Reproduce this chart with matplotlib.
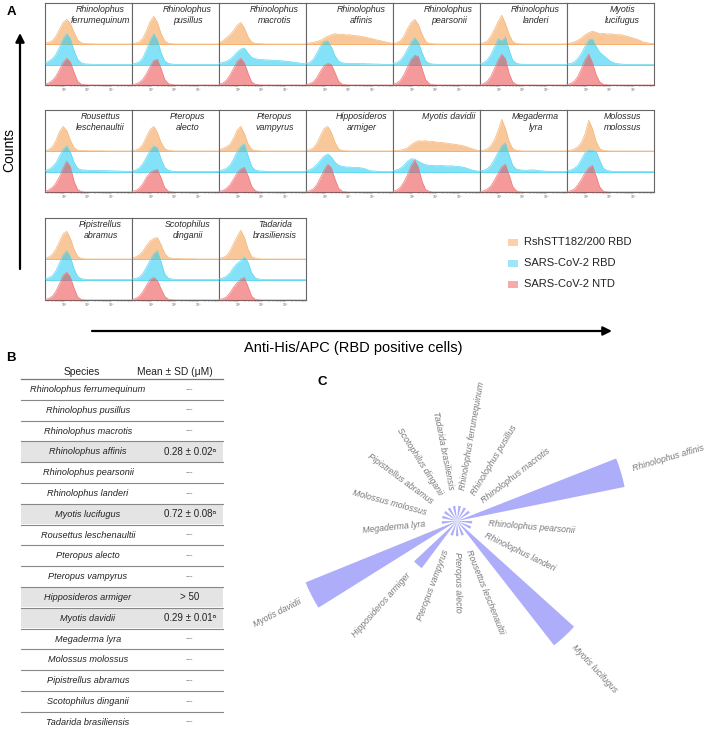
import numpy as np
import matplotlib.pyplot as plt
from matplotlib.patches import Rectangle

plt.rcParams['font.family'] = ['Liberation Sans', 'DejaVu Sans']

W, H = 709, 735

species = ["Rhinolophus ferrumequinum", "Rhinolophus pusillus", "Rhinolophus macrotis",
           "Rhinolophus affinis", "Rhinolophus pearsonii", "Rhinolophus landeri",
           "Myotis lucifugus", "Rousettus leschenaultii", "Pteropus alecto",
           "Pteropus vampyrus", "Hipposideros armiger", "Myotis davidii",
           "Megaderma lyra", "Molossus molossus", "Pipistrellus abramus",
           "Scotophilus dinganii", "Tadarida brasiliensis"]

kd_text = ["---", "---", "---", "0.28 ± 0.02ᵃ", "---", "---", "0.72 ± 0.08ᵃ", "---", "---",
           "---", "> 50", "0.29 ± 0.01ᵃ", "---", "---", "---", "---", "---"]

# panel C: relative bar length per species
rose_len = [0.08, 0.08, 0.08, 0.90, 0.08, 0.08, 0.83, 0.08, 0.08,
            0.08, 0.31, 0.86, 0.08, 0.08, 0.08, 0.08, 0.08]

# flow histograms, 25 channels on the APC axis (trailing channels are empty)
rsh_rbd = {
    "Rhinolophus ferrumequinum": [0.04, 0.08, 0.16, 0.38, 0.72, 1.05, 1.2, 1.0, 0.58, 0.2, 0.06, 0.02, 0.01, 0.01],
    "Rhinolophus pusillus": [0.02, 0.05, 0.1, 0.28, 0.65, 1.1, 1.35, 1.05, 0.52, 0.15, 0.04, 0.01],
    "Rhinolophus macrotis": [0.05, 0.15, 0.3, 0.45, 0.65, 0.92, 1.05, 0.78, 0.35, 0.1, 0.03, 0.02, 0.01],
    "Rhinolophus affinis": [0.02, 0.05, 0.08, 0.12, 0.18, 0.28, 0.38, 0.45, 0.5, 0.47, 0.48, 0.44, 0.45,
                            0.42, 0.4, 0.38, 0.35, 0.3, 0.27, 0.22, 0.18, 0.14, 0.1, 0.06, 0.03],
    "Rhinolophus pearsonii": [0.02, 0.06, 0.15, 0.38, 0.75, 1.05, 1.2, 0.95, 0.48, 0.12, 0.03, 0.01],
    "Rhinolophus landeri": [0.02, 0.06, 0.15, 0.38, 0.72, 1.1, 1.4, 1.0, 0.48, 0.12, 0.03, 0.01],
    "Myotis lucifugus": [0.02, 0.05, 0.1, 0.18, 0.3, 0.45, 0.55, 0.62, 0.57, 0.5, 0.52, 0.48, 0.5,
                         0.47, 0.45, 0.45, 0.4, 0.35, 0.3, 0.25, 0.18, 0.1, 0.06, 0.03, 0.02],
    "Rousettus leschenaultii": [0.02, 0.06, 0.2, 0.5, 0.95, 1.2, 1.0, 0.52, 0.16, 0.04, 0.02, 0.02,
                                0.01, 0.01, 0.01, 0.01, 0.01],
    "Pteropus alecto": [0.02, 0.05, 0.12, 0.32, 0.7, 1.05, 1.2, 0.9, 0.42, 0.12, 0.03, 0.01],
    "Pteropus vampyrus": [0.05, 0.12, 0.2, 0.32, 0.62, 1.02, 1.2, 0.85, 0.35, 0.08, 0.02, 0.01],
    "Hipposideros armiger": [0.02, 0.06, 0.15, 0.38, 0.75, 1.1, 1.2, 0.9, 0.42, 0.1, 0.02, 0.01],
    "Myotis davidii": [0.01, 0.02, 0.04, 0.08, 0.15, 0.3, 0.42, 0.5, 0.48, 0.5, 0.45, 0.47, 0.43,
                       0.42, 0.4, 0.38, 0.35, 0.33, 0.3, 0.27, 0.22, 0.16, 0.1, 0.05, 0.02],
    "Megaderma lyra": [0.02, 0.04, 0.1, 0.25, 0.55, 1.0, 1.55, 1.1, 0.48, 0.12, 0.03, 0.01],
    "Molossus molossus": [0.02, 0.04, 0.1, 0.2, 0.42, 0.85, 1.5, 1.1, 0.48, 0.12, 0.03, 0.01],
    "Pipistrellus abramus": [0.03, 0.09, 0.22, 0.48, 0.85, 1.22, 1.35, 1.0, 0.48, 0.12, 0.03],
    "Scotophilus dinganii": [0.04, 0.1, 0.2, 0.38, 0.65, 0.88, 1.0, 1.05, 0.7, 0.28, 0.08, 0.03, 0.02,
                             0.02, 0.01, 0.01, 0.01, 0.01],
    "Tadarida brasiliensis": [0.03, 0.07, 0.15, 0.38, 0.75, 1.1, 1.4, 1.05, 0.48, 0.12, 0.03, 0.01],
}
cov2_rbd = {
    "Rhinolophus ferrumequinum": [0.08, 0.15, 0.28, 0.48, 0.85, 1.25, 1.5, 1.25, 0.68, 0.25, 0.08, 0.03, 0.02, 0.01, 0.01],
    "Rhinolophus pusillus": [0.02, 0.06, 0.13, 0.32, 0.72, 1.18, 1.5, 1.2, 0.58, 0.18, 0.05, 0.02, 0.01],
    "Rhinolophus macrotis": [0.05, 0.1, 0.15, 0.25, 0.4, 0.6, 0.75, 0.8, 0.55, 0.35, 0.28, 0.25, 0.24,
                             0.22, 0.22, 0.2, 0.2, 0.18, 0.17, 0.15, 0.13, 0.1, 0.08, 0.05, 0.03],
    "Rhinolophus affinis": [0.03, 0.09, 0.25, 0.55, 0.9, 1.12, 1.15, 0.85, 0.42, 0.16, 0.08, 0.06, 0.05,
                            0.05, 0.05, 0.04, 0.04, 0.03, 0.03, 0.02, 0.02, 0.01, 0.01],
    "Rhinolophus pearsonii": [0.03, 0.09, 0.2, 0.42, 0.75, 1.08, 1.3, 1.08, 0.58, 0.18, 0.05, 0.02, 0.01],
    "Rhinolophus landeri": [0.03, 0.09, 0.22, 0.48, 0.85, 1.25, 1.15, 1.35, 0.72, 0.22, 0.06, 0.02, 0.01],
    "Myotis lucifugus": [0.02, 0.05, 0.12, 0.3, 0.55, 0.9, 1.2, 1.25, 0.9, 0.6, 0.45, 0.3, 0.15, 0.08,
                         0.04, 0.02, 0.01],
    "Rousettus leschenaultii": [0.05, 0.1, 0.22, 0.42, 0.75, 1.08, 1.25, 0.95, 0.45, 0.15, 0.08, 0.07, 0.06,
                                0.06, 0.05, 0.05, 0.04, 0.04, 0.03, 0.03, 0.02, 0.02, 0.01, 0.01],
    "Pteropus alecto": [0.03, 0.07, 0.17, 0.38, 0.7, 1.05, 1.25, 1.15, 0.62, 0.2, 0.06, 0.02],
    "Pteropus vampyrus": [0.03, 0.07, 0.15, 0.3, 0.6, 0.98, 1.22, 1.35, 0.78, 0.25, 0.07, 0.03, 0.02, 0.01],
    "Hipposideros armiger": [0.03, 0.08, 0.18, 0.35, 0.55, 0.75, 0.85, 0.7, 0.45, 0.3, 0.25, 0.22, 0.22,
                             0.2, 0.2, 0.18, 0.15, 0.08, 0.03, 0.02, 0.01],
    "Myotis davidii": [0.03, 0.08, 0.15, 0.3, 0.5, 0.62, 0.6, 0.5, 0.4, 0.33, 0.3, 0.3, 0.28, 0.3, 0.28,
                       0.27, 0.28, 0.26, 0.25, 0.22, 0.18, 0.12, 0.06, 0.03, 0.01],
    "Megaderma lyra": [0.03, 0.06, 0.14, 0.3, 0.6, 0.95, 1.25, 1.4, 0.82, 0.3, 0.12, 0.08, 0.06, 0.06,
                       0.08, 0.07, 0.05, 0.03, 0.02, 0.01],
    "Molossus molossus": [0.03, 0.07, 0.15, 0.3, 0.6, 0.92, 1.05, 1.02, 0.98, 0.55, 0.16, 0.05, 0.02],
    "Pipistrellus abramus": [0.03, 0.08, 0.18, 0.42, 0.8, 1.2, 1.4, 1.1, 0.52, 0.15, 0.04, 0.01],
    "Scotophilus dinganii": [0.02, 0.05, 0.12, 0.3, 0.6, 0.95, 1.25, 1.4, 0.88, 0.28, 0.07, 0.02, 0.01],
    "Tadarida brasiliensis": [0.03, 0.07, 0.15, 0.32, 0.58, 0.78, 0.92, 1.1, 0.85, 0.32, 0.08, 0.02],
}
cov2_ntd = {
    "Rhinolophus ferrumequinum": [0.04, 0.1, 0.22, 0.42, 0.75, 1.1, 1.3, 1.12, 0.62, 0.18, 0.04, 0.01],
    "Rhinolophus pusillus": [0.02, 0.05, 0.12, 0.28, 0.55, 0.9, 1.2, 1.25, 0.8, 0.28, 0.07, 0.02],
    "Rhinolophus macrotis": [0.03, 0.09, 0.22, 0.48, 0.8, 1.15, 1.3, 1.08, 0.58, 0.15, 0.04, 0.01],
    "Rhinolophus affinis": [0.02, 0.06, 0.15, 0.36, 0.68, 0.95, 1.05, 1.0, 0.6, 0.18, 0.04, 0.01],
    "Rhinolophus pearsonii": [0.03, 0.09, 0.22, 0.5, 0.88, 1.25, 1.45, 1.38, 0.8, 0.26, 0.06, 0.02],
    "Rhinolophus landeri": [0.02, 0.07, 0.18, 0.42, 0.8, 1.22, 1.5, 1.28, 0.58, 0.15, 0.03],
    "Myotis lucifugus": [0.02, 0.07, 0.18, 0.42, 0.8, 1.25, 1.5, 1.1, 0.52, 0.15, 0.04, 0.01],
    "Rousettus leschenaultii": [0.03, 0.1, 0.22, 0.42, 0.75, 1.18, 1.5, 1.22, 0.52, 0.12, 0.03],
    "Pteropus alecto": [0.02, 0.07, 0.18, 0.4, 0.72, 0.95, 1.05, 1.1, 0.7, 0.22, 0.05, 0.01],
    "Pteropus vampyrus": [0.02, 0.07, 0.17, 0.35, 0.62, 0.95, 1.12, 1.2, 0.8, 0.28, 0.07, 0.01],
    "Hipposideros armiger": [0.02, 0.06, 0.15, 0.36, 0.7, 1.08, 1.35, 1.18, 0.62, 0.18, 0.04, 0.01],
    "Myotis davidii": [0.03, 0.09, 0.22, 0.48, 0.85, 1.3, 1.55, 1.2, 0.52, 0.12, 0.03],
    "Megaderma lyra": [0.02, 0.06, 0.14, 0.3, 0.58, 0.92, 1.22, 1.35, 0.85, 0.28, 0.06, 0.01],
    "Molossus molossus": [0.02, 0.06, 0.14, 0.35, 0.62, 0.95, 1.18, 1.3, 0.8, 0.25, 0.05, 0.01],
    "Pipistrellus abramus": [0.02, 0.07, 0.18, 0.42, 0.8, 1.2, 1.35, 1.12, 0.58, 0.15, 0.03],
    "Scotophilus dinganii": [0.02, 0.07, 0.18, 0.4, 0.72, 1.0, 1.1, 0.95, 0.55, 0.18, 0.04, 0.01],
    "Tadarida brasiliensis": [0.02, 0.06, 0.14, 0.35, 0.62, 0.85, 1.02, 1.1, 0.65, 0.18, 0.04, 0.01],
}

legend_labels = ["RshSTT182/200 RBD", "SARS-CoV-2 RBD", "SARS-CoV-2 NTD"]
fill_cols = ["#f39c4a", "#1ecbf2", "#ec4848"]
line_cols = ["#f7b77a", "#5fd8f2", "#f07a7a"]
legend_cols = ["#fcd1a8", "#9de6f8", "#f8aaaa"]

N_CH = 25
chan = np.linspace(0, 1, N_CH)


def full(v):
    return np.array(v + [0.0] * (N_CH - len(v)))


def px_rect(left, top, w, h):
    return [left / W, 1 - (top + h) / H, w / W, h / H]


fig = plt.figure(figsize=(W / 100, H / 100), dpi=100)

ov = fig.add_axes([0, 0, 1, 1])
ov.set_xlim(0, W)
ov.set_ylim(H, 0)
ov.axis("off")

# ---- panel A: flow histograms ----
row_tops = [3, 110, 218]
panel_w, panel_h, left0 = 87, 82, 45
major = [0.22, 0.49, 0.76]
minor = [b + 0.27 * np.log10(k) for b in [-0.05] + major for k in range(2, 10)]
minor = [m for m in minor if 0 < m < 1]

for idx, name in enumerate(species):
    row = 0 if idx < 7 else (1 if idx < 14 else 2)
    col = idx if idx < 7 else (idx - 7 if idx < 14 else idx - 14)
    ax = fig.add_axes(px_rect(left0 + col * panel_w, row_tops[row], panel_w, panel_h))
    for lane, data in zip([2, 1, 0], [rsh_rbd, cov2_rbd, cov2_ntd]):
        k = 2 - lane
        y = full(data[name])
        if lane > 0:
            ax.axhline(lane, color=line_cols[k], lw=0.7, zorder=1)
        ax.fill_between(chan, lane, lane + y, color=fill_cols[k], alpha=0.55, lw=0, zorder=2 + k)
        ax.plot(chan, lane + y, color=line_cols[k], lw=0.5, zorder=2 + k)
    ax.set_xlim(0, 1)
    ax.set_ylim(0, 4)
    ax.set_yticks([])
    ax.set_xticks(major)
    ax.set_xticklabels(["10²", "10³", "10⁴"], fontsize=2.5, color="#666")
    ax.set_xticks(minor, minor=True)
    ax.tick_params(axis="x", which="both", length=1.2, width=0.3, color="#777", pad=1)
    for s in ax.spines.values():
        s.set_color("#666")
        s.set_linewidth(0.8)
    label = name if name == "Myotis davidii" else name.replace(" ", "\n")
    ax.text(0.64, 3.88, label, ha="center", va="top", fontsize=6.4, style="italic",
            color="#2a2a2a", linespacing=1.28, zorder=10)

ov.text(11, 12, "A", fontsize=9.5, fontweight="bold", ha="center", va="center")
ov.annotate("", xy=(20, 33), xytext=(20, 269),
            arrowprops=dict(arrowstyle="-|>", color="k", lw=1.6, mutation_scale=13,
                            shrinkA=0, shrinkB=0))
ov.text(9, 150, "Counts", rotation=90, fontsize=10, ha="center", va="center")
ov.annotate("", xy=(612, 331), xytext=(92, 331),
            arrowprops=dict(arrowstyle="-|>", color="k", lw=1.6, mutation_scale=13,
                            shrinkA=0, shrinkB=0))
ov.text(353, 348, "Anti-His/APC (RBD positive cells)", fontsize=10.5, ha="center", va="center")

for k, lab in enumerate(legend_labels):
    yc = 242 + k * 21
    ov.add_patch(Rectangle((508, yc - 3.5), 10, 7, color=legend_cols[k], lw=0))
    ov.text(524, yc, lab, fontsize=8, va="center", ha="left", color="#222")

# ---- panel B: table ----
ov.text(11, 358, "B", fontsize=9.5, fontweight="bold", ha="center", va="center")
tx0, tx1, head_y, row_h = 21, 223, 379, 20.8
ov.text(82, 372, "Species", fontsize=7.4, ha="center", va="center", color="#222")
ov.text(175, 372, "Mean ± SD (μM)", fontsize=7.4, ha="center", va="center", color="#222")
ov.plot([tx0, tx1], [head_y, head_y], color="#777", lw=0.9)
for i, (name, val) in enumerate(zip(species, kd_text)):
    top = head_y + i * row_h
    if val != "---":
        ov.add_patch(Rectangle((tx0, top + 0.5), tx1 - tx0, row_h - 1, color="#e4e4e4", lw=0, zorder=0))
    ov.text(88, top + row_h / 2, name, fontsize=6.6, style="italic", ha="center", va="center", color="#222")
    if val == "---":
        ov.text(189, top + row_h / 2, val, fontsize=5.5, ha="center", va="center", color="#666")
    else:
        ov.text(190, top + row_h / 2, val, fontsize=7, ha="center", va="center", color="#222")
    if i < len(species) - 1:
        ov.plot([tx0, tx1], [top + row_h, top + row_h], color="#888", lw=0.8)

# ---- panel C: rose plot ----
ov.text(322, 382, "C", fontsize=9.5, fontweight="bold", ha="center", va="center")
cx, cy, rad = 457, 521, 190
pax = fig.add_axes(px_rect(cx - rad, cy - rad, 2 * rad, 2 * rad), projection="polar")
pax.set_theta_direction(-1)
pax.set_theta_offset(np.radians(80))
step = 2 * np.pi / len(species)
theta = np.arange(len(species)) * step
pax.bar(theta, rose_len, width=step * 0.47, bottom=0, color="#adadf9", edgecolor="none")
pax.set_ylim(0, 1)
pax.axis("off")
pax.patch.set_alpha(0)
for i, name in enumerate(species):
    ang = (80 - i * 360 / len(species)) % 360
    r = max(rose_len[i] + 0.065, 0.165)
    if 90 < ang < 270:
        rot, ha = ang - 180, "right"
    else:
        rot, ha = ang, "left"
    pax.text(theta[i], r, name, rotation=rot, rotation_mode="anchor", ha=ha, va="center",
             fontsize=6.3, style="italic", color="#777")

fig.savefig("out.png", dpi=100)
